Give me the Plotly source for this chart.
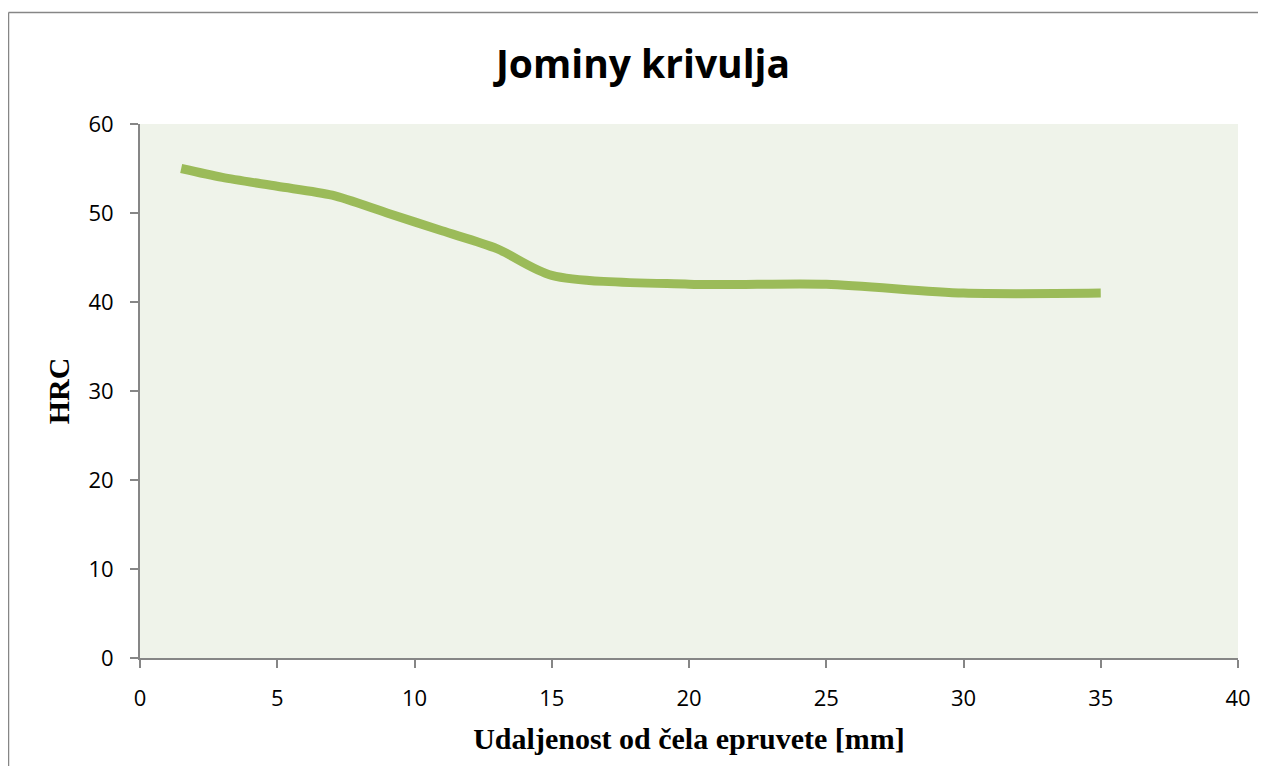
import plotly.graph_objects as go

distance_mm = [1.5, 3, 5, 7, 9, 11, 13, 15, 20, 25, 30, 35]
hardness_hrc = [55, 54, 53, 52, 50, 48, 46, 43, 42, 42, 41, 41]
x_ticks = [0, 5, 10, 15, 20, 25, 30, 35, 40]
y_ticks = [0, 10, 20, 30, 40, 50, 60]

OFF = 8  # page body margin
W, H = 1253, 758
L, T = 140 - OFF, 124 - OFF
pw, ph = 1098, 534
R, B = W - L - pw, H - T - ph

def px(xw):
    return (xw - OFF - L) / pw

def py(yw):
    return (T + ph - (yw - OFF)) / ph

fig = go.Figure()
fig.add_trace(go.Scatter(
    x=distance_mm, y=hardness_hrc, mode="lines",
    line=dict(color="#9BBB59", width=9, shape="spline", smoothing=0.8),
    showlegend=False, hoverinfo="x+y",
))

tickfont = dict(family="Open Sans, Lato, sans-serif", size=22, color="black")
axis_common = dict(
    showgrid=False, zeroline=False, showline=True, linecolor="#868686", linewidth=2,
    ticks="outside", ticklen=8, tickcolor="#868686", tickwidth=2,
    tickfont=tickfont, ticklabelstandoff=12, automargin=False,
)
serif = dict(family="Liberation Serif, Times New Roman, serif", size=30, color="black")
frame = dict(color="#868686", width=1.5)

fig.update_layout(
    width=W, height=H,
    margin=dict(l=L, r=R, t=T, b=B),
    paper_bgcolor="white", plot_bgcolor="#EFF3EA",
    title=dict(text="<b>Jominy krivulja</b>", x=px(643), xref="paper", xanchor="center",
               y=1 - (64 - OFF) / H, yanchor="middle", automargin=False,
               font=dict(family="Open Sans, Lato, sans-serif", size=39, color="black")),
    xaxis=dict(range=[0, 40], tickvals=x_ticks, ticktext=[str(v) for v in x_ticks],
               title=dict(text="<b>Udaljenost od čela epruvete [mm]</b>", standoff=17, font=serif),
               **axis_common),
    yaxis=dict(range=[0, 60], tickvals=y_ticks, ticktext=[str(v) for v in y_ticks],
               title=dict(text="<b>HRC</b>", standoff=10, font=serif),
               **axis_common),
    shapes=[
        dict(type="line", xref="paper", yref="paper",
             x0=px(8.5), y0=py(12.5), x1=px(1258), y1=py(12.5), line=frame, layer="below"),
        dict(type="line", xref="paper", yref="paper",
             x0=px(8.5), y0=py(12.5), x1=px(8.5), y1=py(OFF + H), line=frame, layer="below"),
    ],
)

fig.write_html("out.html")
